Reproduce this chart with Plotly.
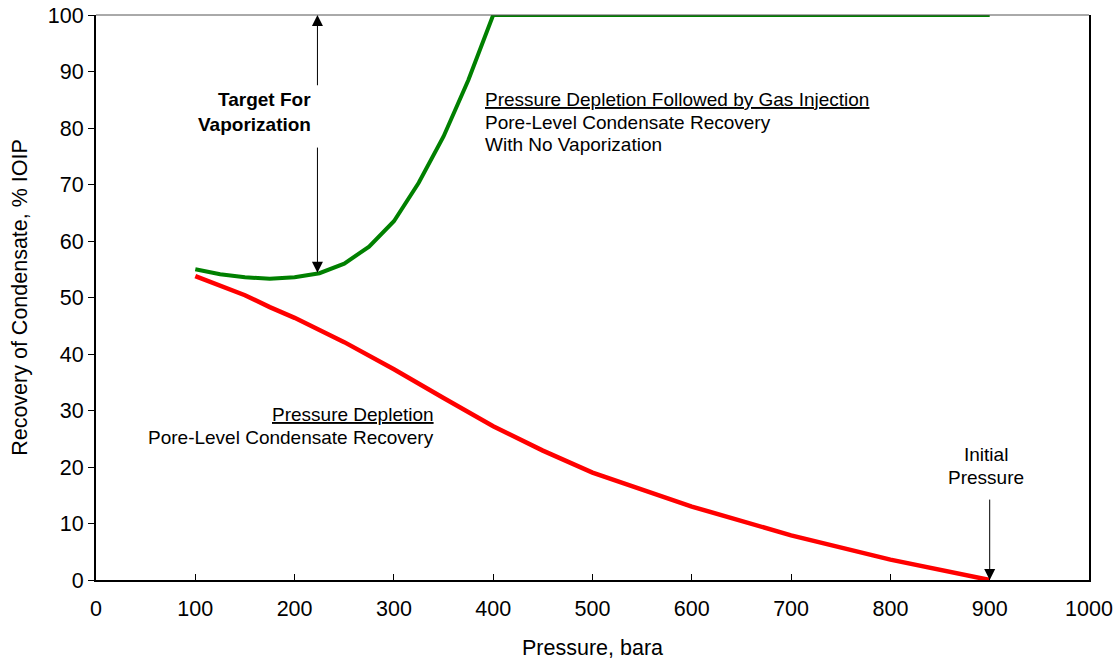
import plotly.graph_objects as go

# ---- data ----
gas_pressure = [100, 125, 150, 175, 200, 225, 250, 275, 300, 325, 350, 375, 400, 450, 500, 600, 700, 800, 900]
gas_recovery = [55.0, 54.1, 53.6, 53.3, 53.6, 54.3, 56.0, 59.0, 63.5, 70.3, 78.5, 88.5, 100, 100, 100, 100, 100, 100, 100]

dep_pressure = [100, 150, 175, 200, 250, 300, 350, 400, 450, 500, 600, 700, 800, 900]
dep_recovery = [53.8, 50.4, 48.3, 46.4, 42.1, 37.3, 32.2, 27.2, 22.9, 19.0, 13.0, 7.9, 3.6, 0.0]

x_ticks = list(range(0, 1001, 100))
y_ticks = list(range(0, 101, 10))

FONT = "Liberation Sans, Arial, sans-serif"

fig = go.Figure()
fig.add_trace(go.Scatter(x=gas_pressure, y=gas_recovery, mode="lines",
                         line=dict(color="#008000", width=4), showlegend=False, hoverinfo="skip"))
fig.add_trace(go.Scatter(x=dep_pressure, y=dep_recovery, mode="lines",
                         line=dict(color="#FF0000", width=4.5), showlegend=False, hoverinfo="skip"))

ann = []
def txt(x, y, s, anchor, bold=False):
    if bold:
        s = "<b>" + s + "</b>"
    ann.append(dict(x=x, y=y, xref="x", yref="y", text=s, showarrow=False,
                    xanchor=anchor, yanchor="middle",
                    font=dict(family=FONT, size=19, color="black")))

txt(218.5, 85.0, "Target For", "right", bold=True)
txt(218.5, 80.6, "Vaporization", "right", bold=True)
txt(389.5, 85.0, "<u>Pressure Depletion Followed by Gas Injection</u>", "left")
txt(389.5, 81.0, "Pore-Level Condensate Recovery", "left")
txt(389.5, 77.1, "With No Vaporization", "left")
txt(342.4, 29.3, "<u>Pressure Depletion</u>", "right")
txt(342.4, 25.2, "Pore-Level Condensate Recovery", "right")
txt(896, 22.2, "Initial", "center")
txt(896, 18.1, "Pressure", "center")

def arrow(x, y, ax, ay):
    ann.append(dict(x=x, y=y, ax=ax, ay=ay, xref="x", yref="y", axref="x", ayref="y",
                    text="", showarrow=True, arrowhead=2, arrowsize=2.2, arrowwidth=1,
                    arrowcolor="black", standoff=0, startstandoff=0))

arrow(223, 100, 223, 87.3)
arrow(223, 54.4, 223, 76.8)
arrow(900, 0, 900, 14.5)

fig.update_layout(
    width=1120, height=664,
    margin=dict(l=96, r=31, t=15, b=84),
    paper_bgcolor="white", plot_bgcolor="white",
    font=dict(family=FONT, color="black"),
    annotations=ann,
    shapes=[dict(type="line", xref="paper", yref="paper", x0=0, x1=1, y0=1, y1=1,
                 line=dict(color="#555555", width=1))],
    xaxis=dict(range=[0, 1000], tickvals=x_ticks, ticks="inside", ticklen=6, tickwidth=1,
               tickcolor="black", showline=True, linecolor="black", linewidth=2,
               showgrid=False, zeroline=False, tickfont=dict(size=21.5, family=FONT),
               ticklabelstandoff=8, automargin=False, ticklabeloverflow="allow",
               title=dict(text="Pressure, bara", font=dict(size=21.5, family=FONT), standoff=20)),
    yaxis=dict(range=[0, 100], tickvals=y_ticks, ticks="outside", ticklen=6, tickwidth=1,
               tickcolor="black", showline=True, linecolor="black", linewidth=2, mirror=True,
               showgrid=False, zeroline=False, tickfont=dict(size=21.5, family=FONT),
               automargin=False, ticklabeloverflow="allow",
               title=dict(text="Recovery of Condensate, % IOIP", font=dict(size=21.5, family=FONT), standoff=14)),
)

fig.write_html("out.html", config={"displayModeBar": False},
               post_script="document.body.style.margin='0';document.body.style.overflow='hidden';")
